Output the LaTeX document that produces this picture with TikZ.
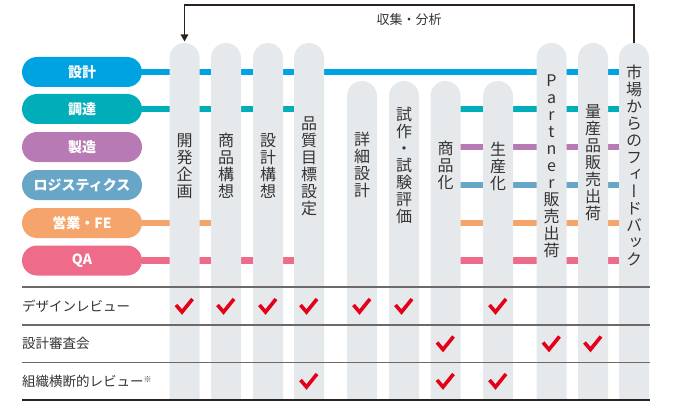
\documentclass[tikz,border=0pt]{standalone}
\usepackage{fontspec}
\newfontfamily\jp{Noto Sans CJK JP}
\newfontfamily\jpv[RawFeature=+vert]{Noto Sans CJK JP}
\usetikzlibrary{arrows.meta,calc}
\definecolor{cSekkei}{HTML}{00A3E2}
\definecolor{cChotatsu}{HTML}{00AEBA}
\definecolor{cSeizo}{HTML}{B87AB4}
\definecolor{cLogi}{HTML}{68A6C8}
\definecolor{cEigyo}{HTML}{F5A56B}
\definecolor{cQA}{HTML}{EE6C8A}
\definecolor{cPillar}{HTML}{E6E9EC}
\definecolor{cCheck}{HTML}{E50019}
\definecolor{cText}{HTML}{333333}
\definecolor{cLine}{HTML}{6D6968}
\definecolor{cArrow}{HTML}{2B2220}
\tikzset{
  pillarshape/.style={fill=cPillar, rounded corners=15pt},
  vtext/.style={font=\jpv\fontsize{16}{17}\selectfont, align=center, inner sep=0pt, text=cText},
  pill/.style={rounded corners=15pt, minimum width=120pt, minimum height=30pt, inner sep=0pt,
    text=white, font=\jp\bfseries\fontsize{14}{14}\selectfont},
  rowline/.style={line width=6.5pt},
  tline/.style={draw=cLine, line width=1.2pt},
  rowlabel/.style={font=\jp\fontsize{13.5}{14}\selectfont, text=cText, anchor=west, inner sep=0pt},
  checkst/.style={draw=cCheck, line width=3.6pt, line join=miter},
  chk/.pic={\draw[checkst] (-8.5,-1) -- (-2.5,6) -- (8,-7);},
  fbline/.style={draw=cArrow, line width=1.3pt},
}
\begin{document}
\begin{tikzpicture}[x=1pt,y=-1pt]
\useasboundingbox (0,0) rectangle (690,401);
\clip (0,0) rectangle (690,401);
\fill[white] (0,0) rectangle (690,401);
% pillar tops
\foreach \x/\t [count=\i] in {184.5/43,226/43,268/43,309/43,362/81,404/81,445.5/81,498/81,551.5/43,593/43,634/43}{
  \coordinate (top\i) at (\x,\t);
}
% pills (row labels)
\node[pill, fill=cSekkei]   (pSekkei)   at (82,72)  {設計};
\node[pill, fill=cChotatsu] (pChotatsu) at (82,109) {調達};
\node[pill, fill=cSeizo]    (pSeizo)    at (82,147) {製造};
\node[pill, fill=cLogi]     (pLogi)     at (82,185) {ロジスティクス};
\node[pill, fill=cEigyo]    (pEigyo)    at (82,223) {営業・FE};
\node[pill, fill=cQA]       (pQA)       at (82,260.5) {QA};
% row lines
\draw[rowline, cSekkei]   (pSekkei.east)   -- (top11 |- pSekkei);
\draw[rowline, cChotatsu] (pChotatsu.east) -- (top4 |- pChotatsu);
\draw[rowline, cChotatsu] (top7 |- pChotatsu) -- (top11 |- pChotatsu);
\draw[rowline, cSeizo]    (top7 |- pSeizo) -- (top11 |- pSeizo);
\draw[rowline, cLogi]     (top7 |- pLogi) -- (top11 |- pLogi);
\draw[rowline, cEigyo]    (pEigyo.east) -- (top2 |- pEigyo);
\draw[rowline, cEigyo]    (top7 |- pEigyo) -- (top11 |- pEigyo);
\draw[rowline, cQA]       (pQA.east) -- (top4 |- pQA);
\draw[rowline, cQA]       (top7 |- pQA) -- (top11 |- pQA);
% pillars
\foreach \i in {1,...,11}{
  \fill[pillarshape] ($(top\i)+(-15,0)$) rectangle ($(top\i)+(15,440)$);
}
% pillar texts
\node[vtext] (v1)  at (184.5,166) {開\\発\\企\\画};
\node[vtext] (v2)  at (226,166)   {商\\品\\構\\想};
\node[vtext] (v3)  at (268,166)   {設\\計\\構\\想};
\node[vtext] (v4)  at (309,166)   {品\\質\\目\\標\\設\\定};
\node[vtext] (v5)  at (362,165)   {詳\\細\\設\\計};
\node[vtext] (v6)  at (404,165)   {試\\作\\・\\試\\験\\評\\価};
\node[vtext] (v7)  at (445.5,165) {商\\品\\化};
\node[vtext] (v8)  at (498,166)   {生\\産\\化};
\node[vtext] (v9)  at (551.5,166) {P\\a\\r\\t\\n\\e\\r\\販\\売\\出\\荷};
\node[vtext] (v10) at (593,163)   {量\\産\\品\\販\\売\\出\\荷};
\node[vtext] (v11) at (634,165)   {市\\場\\か\\ら\\の\\フ\\ィ\\ー\\ド\\バ\\ッ\\ク};
% feedback arrow
\coordinate (fb) at (0,5);
\draw[fbline, -{Triangle[width=7.5pt,length=7pt]}, shorten >=1.5pt]
  (top11) -- (top11 |- fb) -- (top1 |- fb) -- (top1);
\node[font=\jp\fontsize{13}{13}\selectfont, text=cText, inner sep=0pt] (lab) at (409,20) {収集・分析};
% table
\draw[tline] (22,287) -- (650,287);
\draw[tline] (22,325) -- (650,325);
\draw[tline] (22,362.5) -- (650,362.5);
\draw[tline, draw=cArrow] (22,400) -- (650,400);
\node[rowlabel] (t1) at (22,306) {デザインレビュー};
\node[rowlabel] (t2) at (22,343.5) {設計審査会};
\node[rowlabel] (t3) at (22,381) {組織横断的レビュー\raisebox{4pt}{\fontsize{8}{8}\selectfont ※}};
% checks
\foreach \c in {1,2,3,4,5,6,8}{ \pic at (top\c |- t1) {chk}; }
\foreach \c in {7,9,10}{ \pic at (top\c |- t2) {chk}; }
\foreach \c in {4,7,8}{ \pic at (top\c |- t3) {chk}; }
\end{tikzpicture}
\end{document}
